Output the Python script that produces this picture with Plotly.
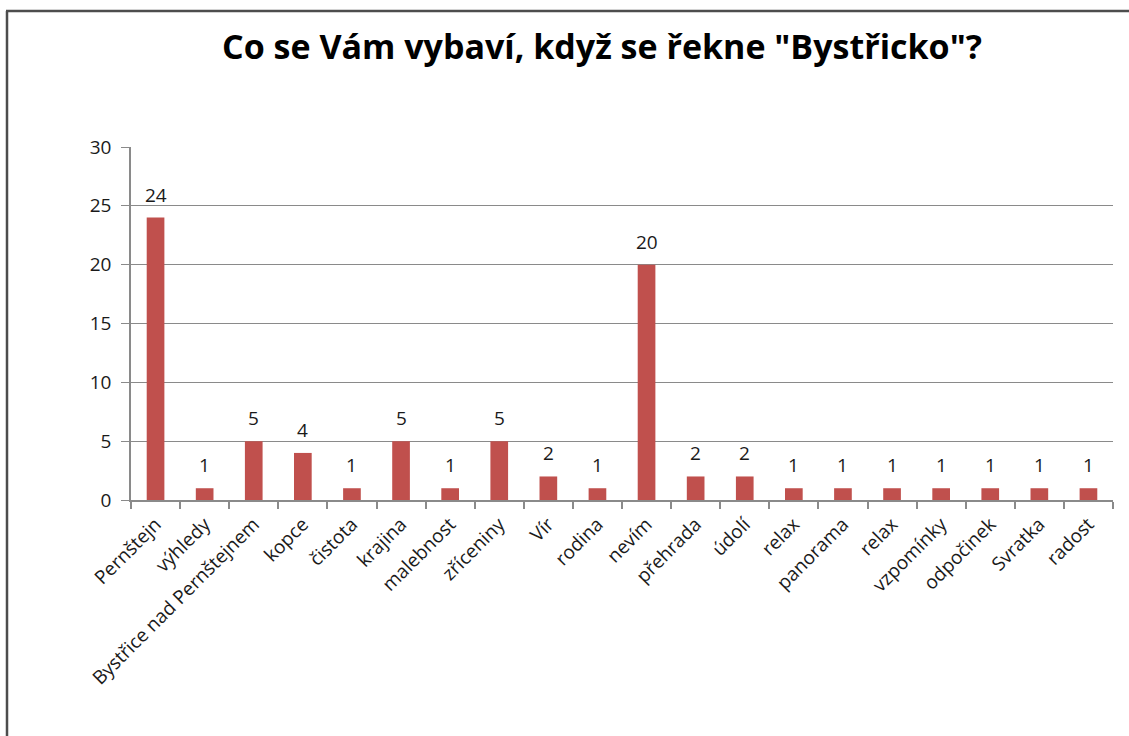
import plotly.graph_objects as go

title = 'Co se Vám vybaví, když se řekne "Bystřicko"?'
categories = ["Pernštejn", "výhledy", "Bystřice nad Pernštejnem", "kopce", "čistota",
              "krajina", "malebnost", "zříceniny", "Vír", "rodina", "nevím", "přehrada",
              "údolí", "relax", "panorama", "relax", "vzpomínky", "odpočinek", "Svratka", "radost"]
values = [24, 1, 5, 4, 1, 5, 1, 5, 2, 1, 20, 2, 2, 1, 1, 1, 1, 1, 1, 1]
y_ticks = [0, 5, 10, 15, 20, 25, 30]

positions = list(range(len(categories)))
bar_color = "#C0504D"
grid_color = "#8a8a8a"
text_color = "#1a1a1a"
font_family = "Open Sans, Liberation Sans, sans-serif"

fig = go.Figure()
fig.add_trace(go.Bar(
    x=positions, y=values, width=0.36,
    marker=dict(color=bar_color, line=dict(width=0)),
    showlegend=False, hoverinfo="skip",
))

for p, v in zip(positions, values):
    fig.add_annotation(x=p, y=v, text=str(v), showarrow=False,
                       yanchor="bottom", yshift=8,
                       font=dict(family=font_family, size=19, color=text_color))

fig.update_layout(
    width=1129, height=736,
    margin=dict(l=131, r=16, t=147, b=236, autoexpand=False),
    paper_bgcolor="white", plot_bgcolor="white",
    title=dict(text=title, x=(602 - 131) / 982, xref="paper",
               y=1 - 47 / 736, yanchor="middle", xanchor="center",
               font=dict(family=font_family, size=34, color="#000000", weight="bold")),
    xaxis=dict(
        range=[-0.5, len(categories) - 0.5],
        tickmode="array", tickvals=positions, ticktext=categories,
        tickangle=-45, ticks="", showgrid=False, zeroline=False,
        showline=True, linecolor=grid_color, linewidth=1.5,
        ticklabelstandoff=4,
        tickfont=dict(family=font_family, size=19, color=text_color),
        minor=dict(tickmode="linear", tick0=-0.5, dtick=1, ticks="outside",
                   ticklen=7, tickcolor=grid_color, tickwidth=1.5, showgrid=False),
    ),
    yaxis=dict(
        range=[0, 30], tickmode="array", tickvals=y_ticks,
        showgrid=True, gridcolor=grid_color, gridwidth=1.2, zeroline=False,
        showline=True, linecolor=grid_color, linewidth=1.5,
        ticks="outside", ticklen=8, tickcolor=grid_color,
        ticklabelstandoff=6,
        tickfont=dict(family=font_family, size=19, color=text_color),
    ),
)

# outer frame (top and left edges only, as in the reference crop)
frame = "#4d4d4d"
fig.add_shape(type="line", xref="paper", yref="paper",
              x0=(7 - 131) / 982, x1=(7 - 131) / 982,
              y0=(500 - 736) / 353, y1=(500 - 11) / 353,
              line=dict(color=frame, width=2.5))
fig.add_shape(type="line", xref="paper", yref="paper",
              x0=(6 - 131) / 982, x1=(1129 - 131) / 982,
              y0=(500 - 11) / 353, y1=(500 - 11) / 353,
              line=dict(color=frame, width=2.5))

fig.write_html("out.html", config={"displayModeBar": False},
               post_script="document.body.style.margin='0px';")
